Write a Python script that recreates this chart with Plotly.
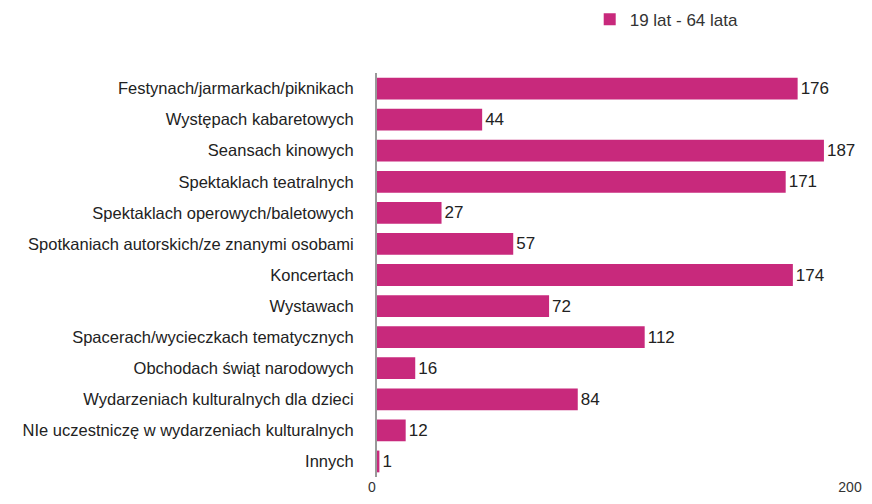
import plotly.graph_objects as go

categories = [
    "Festynach/jarmarkach/piknikach",
    "Występach kabaretowych",
    "Seansach kinowych",
    "Spektaklach teatralnych",
    "Spektaklach operowych/baletowych",
    "Spotkaniach autorskich/ze znanymi osobami",
    "Koncertach",
    "Wystawach",
    "Spacerach/wycieczkach tematycznych",
    "Obchodach świąt narodowych",
    "Wydarzeniach kulturalnych dla dzieci",
    "NIe uczestniczę w wydarzeniach kulturalnych",
    "Innych",
]
values = [176, 44, 187, 171, 27, 57, 174, 72, 112, 16, 84, 12, 1]
series_name = "19 lat - 64 lata"
x_ticks = [0, 200]

bar_color = "#C8297C"
font_family = "Liberation Sans, Arial, sans-serif"

fig = go.Figure()
fig.add_trace(go.Bar(
    y=categories, x=values, orientation="h", name=series_name,
    marker=dict(color=bar_color, line=dict(width=0)),
    text=[str(v) for v in values], textposition="outside",
    textfont=dict(size=17, color="#222222"), cliponaxis=False,
))

# page body adds 8px, keep the figure inside the window
fig.update_layout(
    width=864, height=488,
    margin=dict(l=369, r=17, t=65, b=19, autoexpand=False),
    paper_bgcolor="white", plot_bgcolor="white",
    font=dict(family=font_family, size=16.5, color="#333333"),
    bargap=0.3,
    showlegend=True,
    legend=dict(orientation="h", x=0.445, xanchor="left", yref="container",
                y=0.976, yanchor="middle", font=dict(size=17, color="#333333")),
    xaxis=dict(range=[0, 200], tickvals=x_ticks, showgrid=False, zeroline=False,
               showline=False, ticks="", automargin=False, ticklabelstandoff=0,
               ticklabelshift=-5, ticklabeloverflow="allow",
               tickfont=dict(size=14, color="#333333")),
    yaxis=dict(autorange="reversed", showgrid=False, zeroline=False,
               showline=True, linecolor="#999999", linewidth=2, ticks="",
               ticklabelstandoff=18, automargin=False,
               tickfont=dict(size=16.5, color="#222222")),
)

fig.write_html("out.html")
